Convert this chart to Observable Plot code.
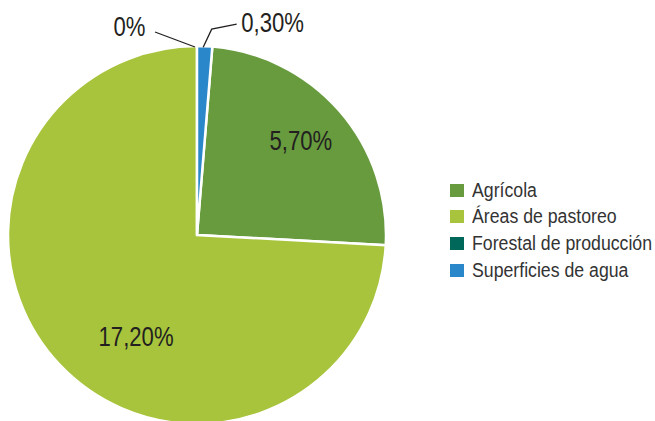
<!DOCTYPE html>
<html><head><meta charset="utf-8">
<script src="https://cdn.jsdelivr.net/npm/d3@7"></script>
<script src="https://cdn.jsdelivr.net/npm/@observablehq/plot@0.6"></script>
<style>
body{margin:0;background:#fff;}
#chart{position:relative;width:655px;height:421px;overflow:hidden;}
#legend{position:absolute;left:450px;top:177px;font-family:"Liberation Sans",Arial,sans-serif;font-size:20px;color:#333;white-space:nowrap;}
.item{display:flex;align-items:center;height:26.6px;}
.sw{width:14px;height:13px;margin-right:8px;flex:none;}
.txt{display:inline-block;transform:scaleX(0.885);transform-origin:left center;}
</style></head><body><div id="chart"></div>
<script>
const categories = ["Agrícola", "Áreas de pastoreo", "Forestal de producción", "Superficies de agua"];
const values = [5.70, 17.20, 0, 0.30];
const valueLabels = ["5,70%", "17,20%", "0%", "0,30%"];
const colors = ["#679b3e", "#a8c43d", "#00675b", "#2a87c9"];

const FONT = '"Liberation Sans",Arial,sans-serif';
const data = categories.map((c, i) => ({category: c, value: values[i], label: valueLabels[i], color: colors[i]}));
const total = d3.sum(values);
const offset = 2 * Math.PI * values[3] / total; // last slice ends at 12 o'clock + its own width
const arcs = d3.pie().sort(null).value(d => d.value).startAngle(offset).endAngle(offset + 2 * Math.PI)(data);

// label placement (style): inside radius fraction, or outside offsets in px
const labelStyle = [
  {r: 0.74, dx: -2, dy: -2, anchor: "middle"},
  {r: 0.63, dx: 25, dy: 20, anchor: "middle"},
  {r: 1.0, dx: -52, dy: -19, anchor: "end", leader: [[-2, 1], [-42, -14]]},
  {r: 1.0, dx: 36, dy: -23, anchor: "start", leader: [[-1.5, 1], [7, -17], [32, -22]]}
];
const mid = a => (a.startAngle + a.endAngle) / 2;
const labels = arcs.map((a, i) => {
  const s = labelStyle[i], m = mid(a);
  return {...s, text: a.data.label, x: s.r * Math.sin(m), y: s.r * Math.cos(m)};
});

const pieMark = (index, scales) => {
  const {x, y} = scales;
  const cx = x(0), cy = y(0), R = x(1) - x(0);
  const g = d3.create("svg:g").attr("transform", `translate(${cx},${cy})`);
  const arc = d3.arc().innerRadius(0).outerRadius(R);
  g.selectAll("path.slice").data(arcs.filter(a => a.data.value > 0)).join("path")
    .attr("class", "slice").attr("d", arc).attr("fill", a => a.data.color)
    .attr("stroke", "#fff").attr("stroke-width", 2.5).attr("stroke-linejoin", "miter");
  labels.forEach((l, i) => {
    if (!l.leader) return;
    const m = mid(arcs[i]);
    const ex = R * Math.sin(m), ey = -R * Math.cos(m);
    g.append("path").attr("fill", "none").attr("stroke", "#231f20").attr("stroke-width", 1.3)
      .attr("d", d3.line()(l.leader.map(([dx, dy]) => [ex + dx, ey + dy])));
  });
  return g.node();
};

const chart = Plot.plot({
  width: 655, height: 421,
  margin: 0,
  x: {domain: [-1, 1], range: [8, 386], axis: null},
  y: {domain: [-1, 1], range: [424, 46], axis: null},
  marks: [
    pieMark,
    ...labels.map(l => Plot.text([l], {x: "x", y: "y", text: "text", dx: l.dx, dy: l.dy, textAnchor: l.anchor,
      fontSize: 27, fill: "#231f20", fontFamily: FONT, className: "vlabel"}))
  ]
});
// condensed look (Arial Narrow in the original): squeeze each label about its anchor
chart.querySelectorAll("g.vlabel text").forEach(t => {
  const tr = t.getAttribute("transform") || "";
  t.setAttribute("transform", tr + " scale(0.82,1)");
});
const container = document.getElementById("chart");
container.appendChild(chart);

const legend = document.createElement("div");
legend.id = "legend";
categories.forEach((c, i) => {
  const it = document.createElement("div"); it.className = "item";
  const sw = document.createElement("div"); sw.className = "sw"; sw.style.background = colors[i];
  const t = document.createElement("span"); t.className = "txt"; t.textContent = c;
  it.appendChild(sw); it.appendChild(t); legend.appendChild(it);
});
container.appendChild(legend);
</script></body></html>
